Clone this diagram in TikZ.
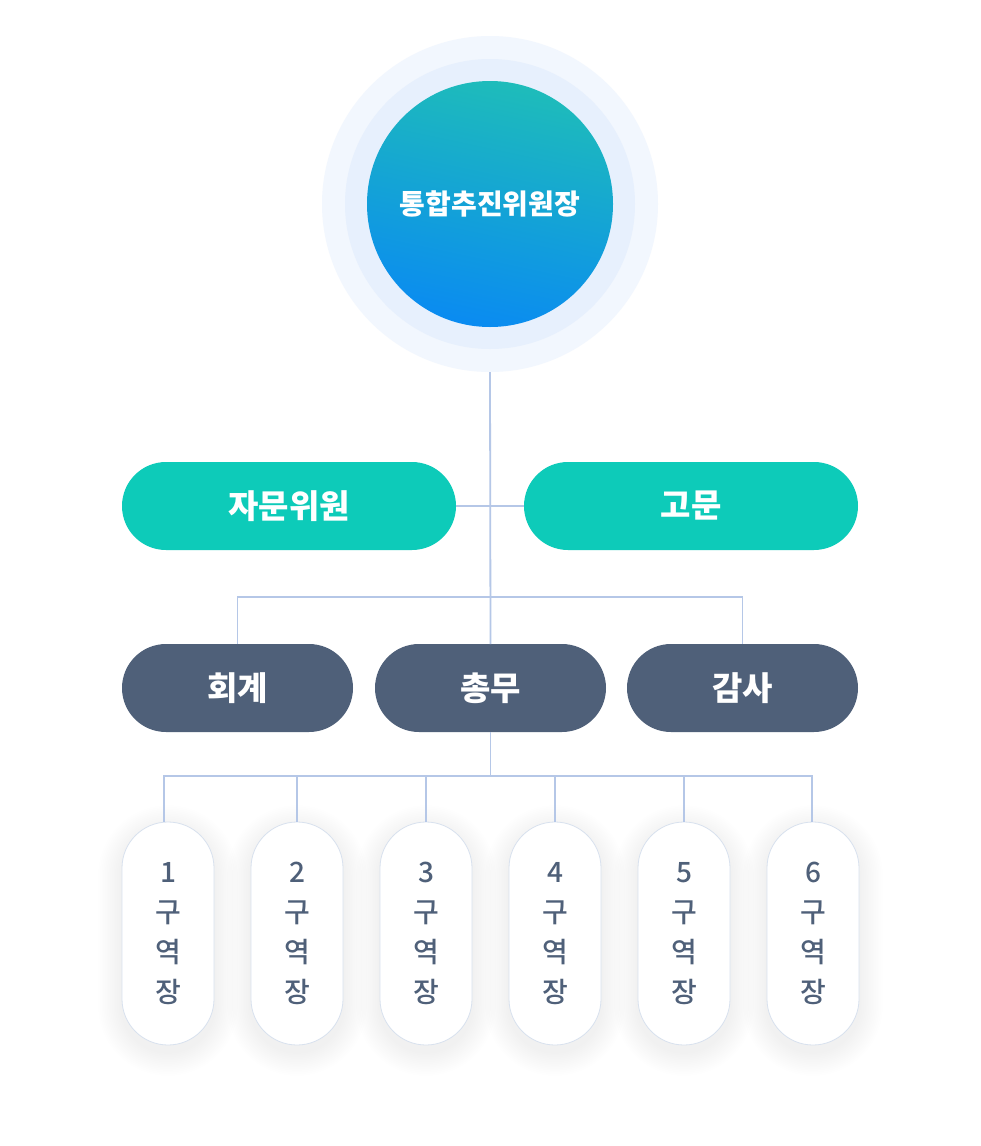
\documentclass[tikz,border=0pt]{standalone}
\usepackage{fontspec}
\setmainfont{Noto Sans CJK KR}
\newfontfamily\krmed{Noto Sans CJK KR Medium}
\usetikzlibrary{calc}
\definecolor{tealpill}{HTML}{0DCBB9}
\definecolor{darkpill}{HTML}{4F6079}
\definecolor{linec}{HTML}{B5C7E7}
\definecolor{ringout}{HTML}{F2F7FE}
\definecolor{ringmid}{HTML}{E7F0FD}
\definecolor{gradtop}{HTML}{1EBCBA}
\definecolor{gradbot}{HTML}{0A8BF1}
\definecolor{pillborder}{HTML}{D8E1EE}
\definecolor{shadowc}{HTML}{8EA6D0}
\tikzset{
  conn/.style={draw=linec, line width=1.8pt},
  ring/.style={circle, inner sep=0pt, outer sep=0pt},
  chairnode/.style={circle, inner sep=0pt, outer sep=0pt, minimum size=246pt,
    top color=gradtop, bottom color=gradbot, shading angle=-12,
    text=white, font=\fontsize{28}{32}\selectfont\bfseries},
  widepill/.style={rectangle, rounded corners=44pt, minimum width=334pt, minimum height=88pt,
    inner sep=0pt, outer sep=0pt, fill=tealpill, text=white, font=\fontsize{33}{38}\selectfont\bfseries},
  midpill/.style={rectangle, rounded corners=44pt, minimum width=231pt, minimum height=88pt,
    inner sep=0pt, outer sep=0pt, fill=darkpill, text=white, font=\fontsize{33}{38}\selectfont\bfseries},
  distpill/.style={rectangle, rounded corners=46pt, minimum width=92pt, minimum height=223pt,
    inner sep=0pt, outer sep=0pt, fill=white, draw=pillborder, line width=0.8pt,
    text=darkpill, align=center, font=\krmed\fontsize{28}{40}\selectfont},
}
\begin{document}
\begin{tikzpicture}[x=1pt,y=-1pt]
\useasboundingbox (0,0) rectangle (980,1146);
\fill[white] (0,0) rectangle (980,1146);

% rings and chair
\node[ring, fill=ringout, minimum size=336pt] (ringo) at (490,204) {};
\node[ring, fill=ringmid, minimum size=290pt] (ringm) at (490,204) {};
\node[chairnode] (chair) at (490,204) {통합추진위원장};

% second level
\node[widepill] (adv) at (289,506) {자문위원};
\node[widepill] (cons) at (691,506) {고문};

% third level
\node[midpill] (acc) at (237.5,688) {회계};
\node[midpill] (gen) at (490.5,688) {총무};
\node[midpill] (aud) at (742.5,688) {감사};

\coordinate (bus1) at (490.5,597);
\coordinate (bus2) at (490.5,776);

% connectors
\draw[conn] (ringo.south) -- (gen.north);
\draw[conn] (adv.east) -- (cons.west);
\draw[conn] (acc.north) |- (bus1) -| (aud.north);
\draw[conn] (gen.south) -- (bus2);

% district pills with soft shadows
\foreach \n/\x in {1/168,2/297,3/426,4/555,5/684,6/813}{
  \foreach \i in {1,...,14}{
    \pgfmathsetmacro\e{\i*1.7}
    \pgfmathsetmacro\r{46+\e}
    \fill[shadowc, opacity=0.0045, rounded corners=\r pt] (\x-46-\e, 829-\e) rectangle (\x+46+\e, 1052+\e);
  }
  \node[distpill] (d\n) at (\x,933.5) {\n\\구\\역\\장};
}

\draw[conn] ([xshift=-4pt]d1.north) |- (bus2) -| ([xshift=-1pt]d6.north);
\foreach \n in {2,3,4,5}{
  \draw[conn] (d\n.north) -- (d\n.north |- bus2);
}
\end{tikzpicture}
\end{document}
